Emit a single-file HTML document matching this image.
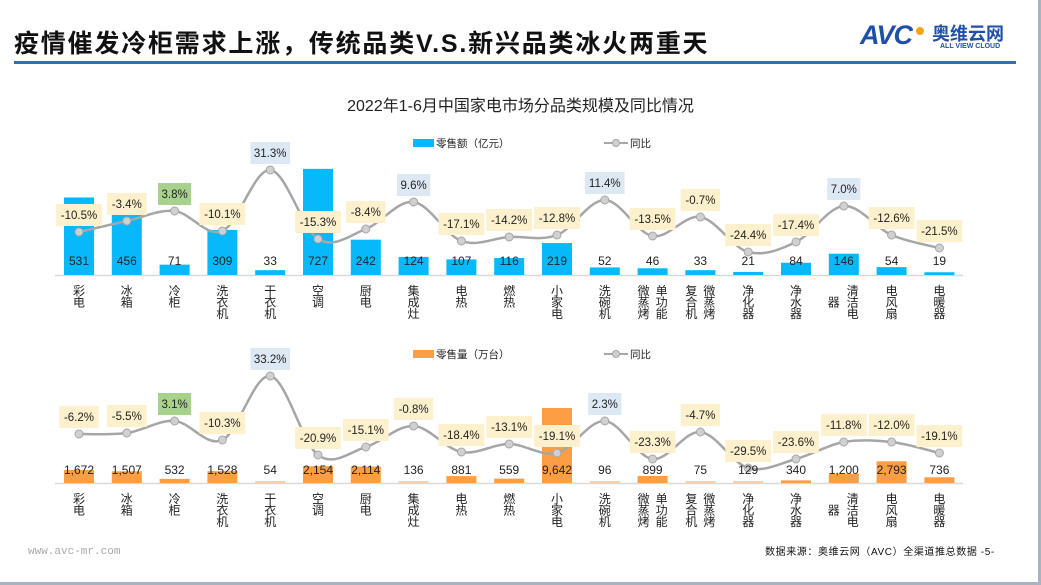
<!DOCTYPE html>
<html><head><meta charset="utf-8"><style>
body{margin:0;width:1041px;height:585px;background:#fff;overflow:hidden;position:relative;font-family:"Liberation Sans","Noto Sans CJK SC",sans-serif;}
#t{position:absolute;left:14px;top:24px;font-size:25px;font-weight:bold;color:#111;letter-spacing:1.8px;white-space:nowrap}
#bar{position:absolute;left:14px;top:61px;width:1002px;height:3px;background:#2f6db5}
#sub{position:absolute;left:0;width:1041px;top:92px;text-align:center;font-size:16px;color:#222}
.ft{position:absolute;font-size:10px}
</style></head><body>
<div id="t">疫情催发冷柜需求上涨，传统品类V.S.新兴品类冰火两重天</div>
<div id="bar"></div>
<div style="position:absolute;left:860px;top:20px;font-size:27px;font-weight:bold;font-style:italic;color:#1f4fa8;letter-spacing:-1px">AVC</div>
<div style="position:absolute;left:916px;top:27px;width:8px;height:8px;border-radius:50%;background:#f5a31a"></div>
<div style="position:absolute;left:932px;top:20px;font-size:18px;font-weight:bold;color:#1f4fa8">奥维云网</div>
<div style="position:absolute;left:940px;top:43px;font-size:7px;color:#1f4fa8;font-weight:bold">ALL VIEW CLOUD</div>
<div id="sub">2022年1-6月中国家电市场分品类规模及同比情况</div>
<div class="ft" style="left:28px;top:546px;color:#aaa;font-size:11px;font-family:'Liberation Mono',monospace">www.avc-mr.com</div>
<div class="ft" style="left:765px;top:543px;color:#111;font-size:10px;letter-spacing:0.6px">数据来源：奥维云网（AVC）全渠道推总数据 -5-</div>
<div style="position:absolute;left:1038px;top:0;width:3px;height:585px;background:#a9b4bf"></div>
<div style="position:absolute;left:0;top:582px;width:1041px;height:3px;background:#a9b4bf"></div>
<svg id="s" width="1041" height="585" style="position:absolute;left:0;top:0" xmlns="http://www.w3.org/2000/svg"></svg>
<script>
var xs=[],i;for(i=0;i<19;i++)xs.push(79+i*47.8);
var cats=["彩电","冰箱","冷柜","洗衣机","干衣机","空调","厨电","集成灶","电热","燃热","小家电","洗碗机",null,null,"净化器","净水器",null,"电风扇","电暖器"];
function chart(base,vals,scale,col,fade,pts,labs,lc,legY,legTxt,valY){
 var s='';
 s+='<line x1="55" y1="'+(base+0.5)+'" x2="963" y2="'+(base+0.5)+'" stroke="#d9d9d9" stroke-width="1.5"/>';
 for(var i=0;i<19;i++){var h=Math.max(vals[i]*scale,2);var c=fade.indexOf(i)>=0?'#fbd0a8':col;
  s+='<rect x="'+(xs[i]-15)+'" y="'+(base-h)+'" width="30" height="'+h+'" fill="'+c+'"/>';}
 var d='M'+xs[0]+' '+pts[0];
 for(var i=0;i<18;i++){var p0=i?i-1:0,p3=i<17?i+2:18;
  var c1x=xs[i]+(xs[i+1]-xs[p0])/6,c1y=pts[i]+(pts[i+1]-pts[p0])/6;
  var c2x=xs[i+1]-(xs[p3]-xs[i])/6,c2y=pts[i+1]-(pts[p3]-pts[i])/6;
  d+=' C'+c1x+' '+c1y+' '+c2x+' '+c2y+' '+xs[i+1]+' '+pts[i+1];}
 s+='<path d="'+d+'" fill="none" stroke="#a6a6a6" stroke-width="2.5"/>';
 for(var i=0;i<19;i++)s+='<circle cx="'+xs[i]+'" cy="'+pts[i]+'" r="4" fill="#d0d0d0" stroke="#a6a6a6" stroke-width="1"/>';
 for(var i=0;i<19;i++){var v=vals[i].toLocaleString('en-US');
  s+='<text x="'+xs[i]+'" y="'+(valY+4)+'" font-size="12" text-anchor="middle" fill="#222">'+v+'</text>';}
 for(var i=0;i<19;i++){var t=labs[i],w=t.length*6.3+8,cy=pts[i]-17;var bg={y:'#fdf0cc',b:'#dde8f5',g:'#a9d18e'}[lc[i]];
  s+='<rect x="'+(xs[i]-w/2)+'" y="'+(cy-11)+'" width="'+w+'" height="22" fill="'+bg+'"/>';
  s+='<text x="'+xs[i]+'" y="'+(cy+4)+'" font-size="11.5" text-anchor="middle" fill="#222">'+t+'</text>';}
 s+='<rect x="413" y="'+(legY-4)+'" width="21" height="8" fill="'+col+'"/><text x="436" y="'+(legY+4)+'" font-size="10.5" fill="#222">'+legTxt+'</text>';
 s+='<line x1="604" y1="'+legY+'" x2="628" y2="'+legY+'" stroke="#a6a6a6" stroke-width="2"/><circle cx="616" cy="'+legY+'" r="3.5" fill="#d0d0d0" stroke="#a6a6a6"/><text x="630" y="'+(legY+4)+'" font-size="10.5" fill="#222">同比</text>';
 var ty=base+20;
 function vt(x,str,y0){var r='';for(var k=0;k<str.length;k++)r+='<text x="'+x+'" y="'+(y0+k*11.5)+'" font-size="12" text-anchor="middle" fill="#222">'+str[k]+'</text>';return r;}
 for(var i=0;i<19;i++)if(cats[i])s+=vt(xs[i],cats[i],ty);
 s+=vt(xs[12]+9,"单功能",ty)+vt(xs[12]-9,"微蒸烤",ty);
 s+=vt(xs[13]-9,"复合机",ty)+vt(xs[13]+9,"微蒸烤",ty);
 s+=vt(xs[16]+9,"清洁电",ty)+vt(xs[16]-10,"器",ty+11.5);
 return s;}
var h='';
h+=chart(275,[531,456,71,309,33,727,242,124,107,116,219,52,46,33,21,84,146,54,19],0.146,'#06b9fb',[],
 [232,221,211,231,170,239,229,202,241,237,235,200,236,217,252,242,206,235,248],
 ["-10.5%","-3.4%","3.8%","-10.1%","31.3%","-15.3%","-8.4%","9.6%","-17.1%","-14.2%","-12.8%","11.4%","-13.5%","-0.7%","-24.4%","-17.4%","7.0%","-12.6%","-21.5%"],
 "yygybyybyyybyyyybyy".split(''),143,"零售额（亿元）",261);
h+=chart(483,[1672,1507,532,1528,54,2154,2114,136,881,559,9642,96,899,75,129,340,1200,2793,736],0.00778,'#fd9d44',[4,7,11,13,14],
 [434,433,421,440,376,455,447,426,452,444,453,421,459,432,468,459,442,442,453],
 ["-6.2%","-5.5%","3.1%","-10.3%","33.2%","-20.9%","-15.1%","-0.8%","-18.4%","-13.1%","-19.1%","2.3%","-23.3%","-4.7%","-29.5%","-23.6%","-11.8%","-12.0%","-19.1%"],
 "yygybyyyyyybyyyyyyy".split(''),354,"零售量（万台）",470);
document.getElementById('s').innerHTML=h;
</script>
</body></html>
